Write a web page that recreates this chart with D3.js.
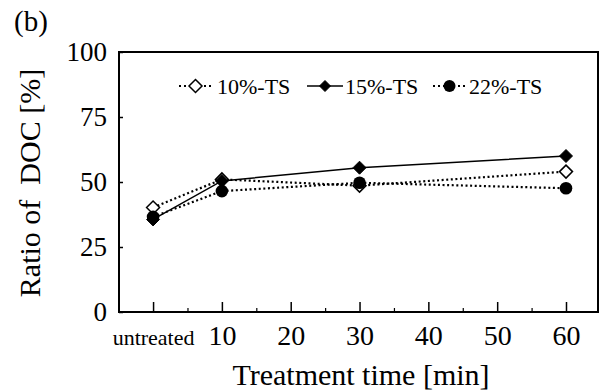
<!DOCTYPE html>
<html>
<head>
<meta charset="utf-8">
<script src="https://cdn.jsdelivr.net/npm/d3@7"></script>
<style>
  body { margin: 0; background: #fff; }
  svg text { font-family: "Liberation Serif", "Times New Roman", serif; fill: #000; }
</style>
</head>
<body>
<div id="chart"></div>
<script>
// treatment time in min, 0 = untreated
const times = [0, 10, 30, 60];
const ts10 = [40.2, 51.0, 48.6, 54.0];
const ts15 = [35.6, 50.4, 55.5, 60.0];
const ts22 = [36.6, 46.5, 49.7, 47.6];
const seriesNames = ["10%-TS", "15%-TS", "22%-TS"];
const xMajorTicks = [0, 10, 20, 30, 40, 50, 60];
const xMinorTicks = [5, 15, 25, 35, 45, 55];
const yTicks = [0, 25, 50, 75, 100];

const W = 600, H = 390;
const margin = {top: 52, right: 2, bottom: 78, left: 119};

const svg = d3.select("#chart").append("svg")
    .attr("width", W)
    .attr("height", H);

const x = d3.scaleLinear().domain([-4.95, 64.65]).range([margin.left, W - margin.right]);
const y = d3.scaleLinear().domain([0, 100]).range([H - margin.bottom, margin.top]);

// frame
svg.append("rect")
    .attr("x", x.range()[0])
    .attr("y", y.range()[1])
    .attr("width", x.range()[1] - x.range()[0])
    .attr("height", y.range()[0] - y.range()[1])
    .attr("fill", "none")
    .attr("stroke", "#000")
    .attr("stroke-width", 2);

// y axis
const yAx = svg.append("g")
    .attr("transform", "translate(" + margin.left + ",0)")
    .call(d3.axisLeft(y).tickValues(yTicks).tickSize(-4).tickPadding(12));
yAx.select(".domain").remove();
yAx.selectAll("line").attr("stroke-width", 1.5);
yAx.selectAll("text").style("font-size", "27px").attr("dy", "0.33em");

// x axis, major ticks
const xAx = svg.append("g")
    .attr("transform", "translate(0," + y(0) + ")")
    .call(d3.axisBottom(x).tickValues(xMajorTicks).tickSize(-10)
        .tickFormat(d => d === 0 ? "untreated" : d));
xAx.select(".domain").remove();
xAx.selectAll("line").attr("stroke-width", 1.5);
xAx.selectAll("text")
    .attr("y", 33)
    .attr("dy", 0)
    .style("font-size", d => d === 0 ? "22px" : "28px");

// x axis, minor ticks
const xMin = svg.append("g")
    .attr("transform", "translate(0," + y(0) + ")")
    .call(d3.axisBottom(x).tickValues(xMinorTicks).tickSize(-4).tickFormat(""));
xMin.select(".domain").remove();
xMin.selectAll("line").attr("stroke-width", 1.2);

// axis titles
svg.append("text")
    .attr("x", 361)
    .attr("y", 385)
    .attr("text-anchor", "middle")
    .style("font-size", "30px")
    .text("Treatment time [min]");

svg.append("text")
    .attr("transform", "translate(40,183) rotate(-90)")
    .attr("text-anchor", "middle")
    .style("font-size", "30px")
    .style("white-space", "pre")
    .text("Ratio of  DOC [%]");

svg.append("text")
    .attr("x", 14)
    .attr("y", 31)
    .style("font-size", "29px")
    .text("(b)");

// series
const series = [
    {name: seriesNames[0], values: ts10, dash: "2,2.6", width: 2.2, marker: "diamondOpen"},
    {name: seriesNames[1], values: ts15, dash: null, width: 1.5, marker: "diamond"},
    {name: seriesNames[2], values: ts22, dash: "2,2.6", width: 2.2, marker: "circle"}
];

const line = d3.line()
    .x((d, i) => x(times[i]))
    .y(d => y(d));

function drawMarker(g, type, cx, cy, s) {
    if (type === "circle") {
        g.append("circle").attr("cx", cx).attr("cy", cy).attr("r", s)
            .attr("fill", "#000");
    } else {
        const pts = [[cx, cy - s], [cx + s, cy], [cx, cy + s], [cx - s, cy]];
        g.append("polygon").attr("points", pts.map(p => p.join(",")).join(" "))
            .attr("fill", type === "diamondOpen" ? "#fff" : "#000")
            .attr("stroke", "#000")
            .attr("stroke-width", type === "diamondOpen" ? 1.5 : 1);
    }
}

series.forEach(s => {
    svg.append("path")
        .datum(s.values)
        .attr("d", line)
        .attr("fill", "none")
        .attr("stroke", "#000")
        .attr("stroke-width", s.width)
        .attr("stroke-dasharray", s.dash);
});

// markers drawn after lines, 15% and 22% on top
[series[0], series[2], series[1]].forEach(s => {
    const g = svg.append("g");
    s.values.forEach((v, i) => {
        drawMarker(g, s.marker, x(times[i]), y(v), s.marker === "circle" ? 6.3 : 6.5);
    });
});

// legend
const legendItems = [
    {s: series[0], x0: 179, x1: 212, tx: 217},
    {s: series[1], x0: 307, x1: 343, tx: 345},
    {s: series[2], x0: 433, x1: 466, tx: 469}
];
const ly = 86;
legendItems.forEach(it => {
    const g = svg.append("g");
    g.append("line")
        .attr("x1", it.x0).attr("x2", it.x1)
        .attr("y1", ly).attr("y2", ly)
        .attr("stroke", "#000")
        .attr("stroke-width", it.s.dash ? 2 : 1.5)
        .attr("stroke-dasharray", it.s.dash ? "2,3" : null);
    drawMarker(g, it.s.marker, (it.x0 + it.x1) / 2, ly, it.s.marker === "circle" ? 6 : (it.s.marker === "diamond" ? 5.5 : 6.5));
    g.append("text")
        .attr("x", it.tx)
        .attr("y", ly + 8)
        .style("font-size", "22px")
        .text(it.s.name);
});
</script>
</body>
</html>
